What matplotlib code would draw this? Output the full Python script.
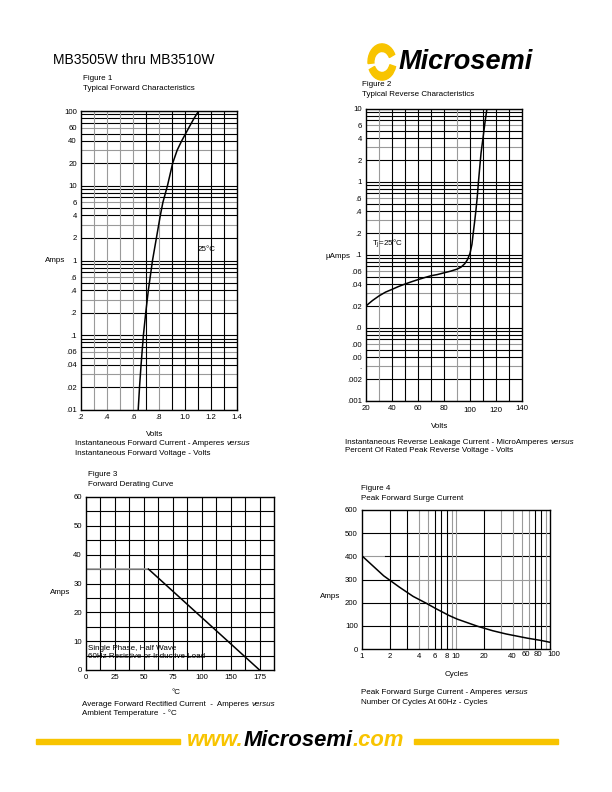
import numpy as np
import matplotlib
matplotlib.use("Agg")
import matplotlib.pyplot as plt
import matplotlib.transforms as mtrans
from matplotlib.patches import Wedge, Rectangle

plt.rcParams['font.family'] = ['Liberation Sans', 'DejaVu Sans']

# Figure 1 - typical forward characteristics (amps vs volts)
fwd_volts = [0.64, 0.65, 0.662, 0.68, 0.698, 0.718, 0.75, 0.78, 0.81, 0.83, 0.865,
             0.905, 0.94, 0.975, 1.03, 1.07, 1.105]
fwd_amps = [0.01, 0.02, 0.04, 0.1, 0.2, 0.4, 1, 2, 4, 6, 10, 20, 30, 40, 60, 80, 100]
fwd_yticks = [100, 60, 40, 20, 10, 6, 4, 2, 1, .6, .4, .2, .1, .06, .04, .02, .01]
fwd_ylabels = ['100', '60', '40', '20', '10', '6', '4', '2', '1', '.6', '.4', '.2',
               '.1', '.06', '.04', '.02', '.01']
fwd_xticks = [0.2, 0.4, 0.6, 0.8, 1.0, 1.2, 1.4]
fwd_xlabels = ['.2', '.4', '.6', '.8', '1.0', '1.2', '1.4']

# Figure 2 - typical reverse characteristics (micro amps vs % of rated voltage)
rev_volts = [20, 22, 25, 30, 35, 40, 45, 50, 55, 60, 65, 70, 75, 80, 85, 90, 93, 96,
             98, 100, 101.5, 102.5, 103.5, 104.5, 105.5, 106.5, 107.5, 108.5, 110,
             111.5, 113]
rev_uamps = [.02, .0215, .0238, .0275, .031, .0338, .037, .04, .043, .046, .049, .052,
             .054, .057, .06, .064, .068, .076, .086, .105, .14, .2, .28, .4, .6, 1,
             1.6, 2.5, 4, 6.5, 10]
rev_yticks = [10, 6, 4, 2, 1, .6, .4, .2, .1, .06, .04, .02, .01, .006, .005, .004,
              .003, .002, .001]
rev_ylabels = ['10', '6', '4', '2', '1', '.6', '.4', '.2', '.1', '.06', '.04', '.02',
               '.0', '.00', '\u02cc', '.00', '.', '.002', '.001']
rev_xticks = [20, 40, 60, 80, 100, 120, 140]

# Figure 3 - forward derating curve (axis units as drawn on the sheet)
der_temp = [0, 54, 150]
der_amps = [35, 35, 0]
der_xticks = [0, 25, 50, 75, 100, 125, 150]
der_xlabels = ['0', '25', '50', '75', '100', '150', '175']
der_yticks = [0, 10, 20, 30, 40, 50, 60]

# Figure 4 - peak forward surge current
surge_cycles = [1, 1.7, 2.5, 3.5, 4.8, 6, 8.4, 10.3, 17, 24.5, 34, 57, 80, 100]
surge_amps = [402, 316, 267, 227, 198, 176, 145, 129, 98, 79, 65, 47, 37, 29]
surge_xticks = [1, 2, 4, 6, 8, 10, 20, 40, 60, 80, 100]
surge_yticks = [0, 100, 200, 300, 400, 500, 600]

GREY = '#9a9a9a'
YELLOW = '#f8c400'
TICK_FS = 5.6
SMALL_FS = 5.8


def px_axes(fig, left, top, right, bottom):
    # make an axes from pixel positions of the 612x792 page
    return fig.add_axes([left / 612, 1 - bottom / 792, (right - left) / 612, (bottom - top) / 792])


def ptext(fig, x, y, s, **kw):
    kw.setdefault('fontsize', SMALL_FS)
    kw.setdefault('va', 'center')
    return fig.text(x / 612, 1 - y / 792, s, **kw)


def chain(fig, x, y, parts, **kw):
    # write text pieces one after the other on the same line
    r = fig.canvas.get_renderer()
    for s, extra in parts:
        opts = dict(kw)
        opts.update(extra)
        t = ptext(fig, x, y, s, **opts)
        x = t.get_window_extent(r).x1
    return x


def nudge(fig, label, dx=0, dy=0):
    # shift a tick label by a few pixels
    off = mtrans.ScaledTranslation(dx / 100, dy / 100, fig.dpi_scale_trans)
    label.set_transform(label.get_transform() + off)


def log_minor_lines(lo_exp, hi_exp):
    vals = []
    for e in range(lo_exp, hi_exp):
        for m in range(1, 10):
            vals.append(m * 10.0 ** e)
    vals.append(10.0 ** hi_exp)
    return vals


def style_axes(ax):
    ax.tick_params(length=0, labelsize=TICK_FS, pad=3)
    for s in ax.spines.values():
        s.set_linewidth(1.0)
        s.set_zorder(5)


def main():
    fig = plt.figure(figsize=(6.12, 7.92), dpi=100)

    # header
    ptext(fig, 53, 60, 'MB3505W thru MB3510W', fontsize=10)
    ptext(fig, 399, 62, 'Microsemi', fontsize=19.5, fontweight='bold', style='italic')
    # logo swirl
    cx, cy = 382 / 612, 1 - 62 / 792
    r = 14 / 612
    logo = fig.add_axes([0, 0, 1, 1], zorder=-1)
    logo.set_xlim(0, 1)
    logo.set_ylim(0, 1)
    logo.axis('off')
    logo.add_patch(Wedge((cx, cy), r, 25, 185, width=r * 0.42, color=YELLOW))
    logo.add_patch(Wedge((cx, cy), r, 205, 345, width=r * 0.42, color=YELLOW))
    # footer
    logo.add_patch(Rectangle((36 / 612, 1 - 743.5 / 792), 144 / 612, 5 / 792, color=YELLOW))
    logo.add_patch(Rectangle((414 / 612, 1 - 743.5 / 792), 144 / 612, 5 / 792, color=YELLOW))
    chain(fig, 187, 741, [('www.', {'color': YELLOW}), ('Microsemi', {}),
                          ('.com', {'color': YELLOW})],
          fontsize=15.8, fontweight='bold', style='italic')

    # ---- Figure 1
    ptext(fig, 83, 79, 'Figure 1')
    ptext(fig, 83, 88, 'Typical Forward Characteristics')
    ax1 = px_axes(fig, 81, 111, 237, 410)
    ax1.set_yscale('log')
    ax1.set_ylim(0.01, 100)
    ax1.set_xlim(0.2, 1.4)
    hcols = ['k', 'k', GREY, 'k', 'k', GREY, 'k', 'k', 'k']
    for i, v in enumerate(log_minor_lines(-2, 2)):
        ax1.axhline(v, color=hcols[i % 9], lw=0.8)
    vcols = [GREY, GREY, GREY, GREY, 'k', GREY, 'k', 'k', 'k', 'k', 'k']
    for i, v in enumerate(np.arange(3, 14) / 10):
        ax1.axvline(v, color=vcols[i], lw=0.8)
    ax1.plot(fwd_volts, fwd_amps, color='k', lw=1.1, zorder=4)
    ax1.set_yticks(fwd_yticks)
    ax1.set_yticklabels(fwd_ylabels)
    ax1.minorticks_off()
    ax1.set_xticks(fwd_xticks)
    ax1.set_xticklabels(fwd_xlabels)
    style_axes(ax1)
    ax1.text(1.1, 1.4, '25\u00b0C', fontsize=SMALL_FS, va='center')
    ptext(fig, 45, 260, 'Amps')
    ptext(fig, 155, 434, 'Volts', ha='center')
    chain(fig, 75, 444, [('Instantaneous Forward Current - Amperes ', {}),
                         ('versus', {'style': 'italic'})])
    ptext(fig, 75, 453, 'Instantaneous Forward Voltage - Volts')

    # ---- Figure 2
    ptext(fig, 362, 85, 'Figure 2')
    ptext(fig, 362, 94, 'Typical Reverse Characteristics')
    ax2 = px_axes(fig, 366, 109, 522, 401)
    ax2.set_yscale('log')
    ax2.set_ylim(0.001, 10)
    ax2.set_xlim(20, 140)
    hcols = ['k', 'k', GREY, 'k', 'k', GREY, 'k', 'k', 'k']
    for i, v in enumerate(log_minor_lines(-3, 1)):
        ax2.axhline(v, color=hcols[i % 9], lw=0.8)
    vcols = [GREY, 'k', 'k', 'k', 'k', 'k', GREY, 'k', 'k', 'k', 'k']
    for i, v in enumerate(range(30, 140, 10)):
        ax2.axvline(v, color=vcols[i], lw=0.8)
    ax2.plot(rev_volts, rev_uamps, color='k', lw=1.1, zorder=4)
    ax2.set_yticks(rev_yticks)
    ax2.set_yticklabels(rev_ylabels)
    ax2.minorticks_off()
    ax2.set_xticks(rev_xticks)
    style_axes(ax2)
    for lab in ax2.get_xticklabels()[4:6]:
        nudge(fig, lab, dy=-2)
    ax2.text(25, 0.14, 'T$_{\\rm J}$=25\u00b0C', fontsize=SMALL_FS, va='center')
    ptext(fig, 326, 256, '\u00b5Amps')
    ptext(fig, 440, 426, 'Volts', ha='center')
    chain(fig, 345, 442, [('Instantaneous Reverse Leakage Current - MicroAmperes ', {}),
                          ('versus', {'style': 'italic'})])
    ptext(fig, 345, 451, 'Percent Of Rated Peak Reverse Voltage - Volts')

    # ---- Figure 3
    ptext(fig, 88, 475, 'Figure 3')
    ptext(fig, 88, 485, 'Forward Derating Curve')
    ax3 = px_axes(fig, 86, 497, 274, 670)
    ax3.set_xlim(0, 162.5)
    ax3.set_ylim(0, 60)
    for v in np.arange(5, 60, 5):
        ax3.axhline(v, color='k', lw=0.8)
    for v in np.arange(12.5, 162.5, 12.5):
        ax3.axvline(v, color='k', lw=0.8)
    ax3.plot(der_temp[:2], der_amps[:2], color=GREY, lw=1.1, zorder=4)
    ax3.plot(der_temp[1:], der_amps[1:], color='k', lw=1.1, zorder=4)
    ax3.set_xticks(der_xticks)
    ax3.set_xticklabels(der_xlabels)
    ax3.set_yticks(der_yticks)
    style_axes(ax3)
    ax3.text(2, 7.6, 'Single Phase, Half Wave', fontsize=SMALL_FS, va='center')
    ax3.text(2, 4.6, '60Hz Resistive or Inductive Load', fontsize=SMALL_FS, va='center')
    ptext(fig, 50, 593, 'Amps')
    ptext(fig, 176, 693, '\u00b0C', ha='center')
    chain(fig, 82, 704, [('Average Forward Rectified Current  -  Amperes ', {}),
                         ('versus', {'style': 'italic'})])
    ptext(fig, 82, 713, 'Ambient Temperature  - \u00b0C')

    # ---- Figure 4
    ptext(fig, 361, 489, 'Figure 4')
    ptext(fig, 361, 498, 'Peak Forward Surge Current')
    ax4 = px_axes(fig, 362, 510, 550, 649)
    ax4.set_xscale('log')
    ax4.set_xlim(1, 100)
    ax4.set_ylim(0, 600)
    for v in [100, 200, 500]:
        ax4.axhline(v, color='k', lw=0.8)
    ax4.axhline(400, xmax=0.12, color=GREY, lw=0.8)
    ax4.axhline(400, xmin=0.12, color='k', lw=0.8)
    ax4.axhline(300, xmax=0.2, color='k', lw=0.8)
    ax4.axhline(300, xmin=0.2, color=GREY, lw=0.8)
    vcols = ['k', 'k', GREY, GREY, 'k', 'k', 'k', GREY, GREY,
             'k', GREY, GREY, GREY, GREY, 'k', 'k', GREY]
    vlines = log_minor_lines(0, 2)[1:-1]
    for i, v in enumerate(vlines):
        ax4.axvline(v, color=vcols[i], lw=0.8)
    ax4.plot(surge_cycles, surge_amps, color='k', lw=1.1, zorder=4)
    ax4.set_xticks(surge_xticks)
    ax4.set_xticklabels([str(v) for v in surge_xticks])
    ax4.minorticks_off()
    ax4.set_yticks(surge_yticks)
    style_axes(ax4)
    labs = ax4.get_xticklabels()
    nudge(fig, labs[8], dx=-3, dy=2)
    nudge(fig, labs[9], dx=-3, dy=2)
    nudge(fig, labs[10], dx=4, dy=2)
    ptext(fig, 320, 596, 'Amps')
    ptext(fig, 457, 674, 'Cycles', ha='center')
    chain(fig, 361, 693, [('Peak Forward Surge Current - Amperes ', {}),
                          ('versus', {'style': 'italic'})])
    ptext(fig, 361, 703, 'Number Of Cycles At 60Hz - Cycles')

    fig.savefig('out.png', dpi=100)


if __name__ == '__main__':
    main()
